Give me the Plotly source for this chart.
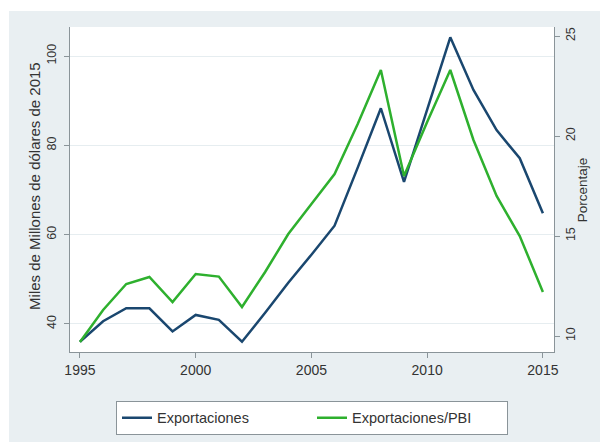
import plotly.graph_objects as go

years = list(range(1995, 2016))
exportaciones = [36.0, 40.6, 43.5, 43.5, 38.3, 42.0, 40.9, 36.0, 42.5, 49.2, 55.5,
                 62.0, 75.0, 88.3, 71.8, 87.9, 104.2, 92.4, 83.4, 77.1, 64.8]
export_pbi = [9.7, 11.3, 12.6, 12.95, 11.7, 13.1, 12.97, 11.45, 13.2, 15.1, 16.6,
              18.1, 20.6, 23.3, 18.0, 20.7, 23.3, 19.8, 17.0, 15.0, 12.2]
x_ticks = [1995, 2000, 2005, 2010, 2015]
left_ticks = [40, 60, 80, 100]
right_ticks = [10, 15, 20, 25]

NAVY = "#1A476F"
GREEN = "#2EB02E"
BG = "#E9EFF2"
AXIS = "#8A9499"
TXT = "#333333"
FONT = "Liberation Sans, Arial, sans-serif"

fig = go.Figure()
fig.add_trace(go.Scatter(x=years, y=exportaciones, name="Exportaciones", mode="lines",
                         line=dict(color=NAVY, width=2.5), yaxis="y"))
fig.add_trace(go.Scatter(x=years, y=export_pbi, name="Exportaciones/PBI", mode="lines",
                         line=dict(color=GREEN, width=2.5), yaxis="y2"))

fig.update_layout(
    width=600, height=442,
    margin=dict(l=70, r=46, t=27, b=90, autoexpand=False),
    paper_bgcolor=BG, plot_bgcolor="white",
    font=dict(family=FONT, size=14, color=TXT),
    xaxis=dict(range=[1994.57, 2015.48], tickvals=x_ticks, showgrid=False, zeroline=False,
               showline=True, linecolor=AXIS, linewidth=1, ticks="outside", ticklen=5,
               tickcolor=AXIS, tickfont=dict(size=14, color=TXT), automargin=False),
    yaxis=dict(range=[33.7, 106.5], tickvals=left_ticks, showgrid=True, gridcolor="#E6EDF0",
               gridwidth=1, zeroline=False, showline=True, linecolor=AXIS, linewidth=1,
               ticks="outside", ticklen=5, tickcolor=AXIS, tickangle=-90,
               ticklabelstandoff=3, automargin=False,
               tickfont=dict(size=12.5, color=TXT)),
    yaxis2=dict(range=[9.2, 25.45], tickvals=right_ticks, overlaying="y", side="right",
                showgrid=False, zeroline=False, showline=True, linecolor=AXIS, linewidth=1,
                ticks="outside", ticklen=5, tickcolor=AXIS, tickangle=-90, automargin=False,
                tickfont=dict(size=12.5, color=TXT)),
    legend=dict(orientation="h", x=0.5, xanchor="center", y=-0.15, yanchor="top",
                bgcolor="white", bordercolor=AXIS, borderwidth=1, entrywidth=150,
                font=dict(size=14.5, color=TXT)),
    annotations=[
        dict(text="Miles de Millones de dólares de 2015", xref="paper", yref="paper",
             x=-0.0723, y=0.511, xanchor="center", yanchor="middle", textangle=-90,
             showarrow=False, font=dict(size=15, color=TXT)),
        dict(text="Porcentaje", xref="paper", yref="paper",
             x=1.0579, y=0.498, xanchor="center", yanchor="middle", textangle=-90,
             showarrow=False, font=dict(size=13.5, color=TXT)),
    ],
    shapes=[
        dict(type="rect", xref="paper", yref="paper", x0=-0.2, x1=1.2, y0=1.049, y1=1.2,
             fillcolor="white", line=dict(width=0), layer="below"),
        dict(type="rect", xref="paper", yref="paper", x0=-0.2, x1=-0.126, y0=-0.4, y1=1.2,
             fillcolor="white", line=dict(width=0), layer="below"),
    ],
)

fig.write_html("out.html", config={"displayModeBar": False},
               post_script="document.body.style.margin='0';document.body.style.overflow='hidden';")
